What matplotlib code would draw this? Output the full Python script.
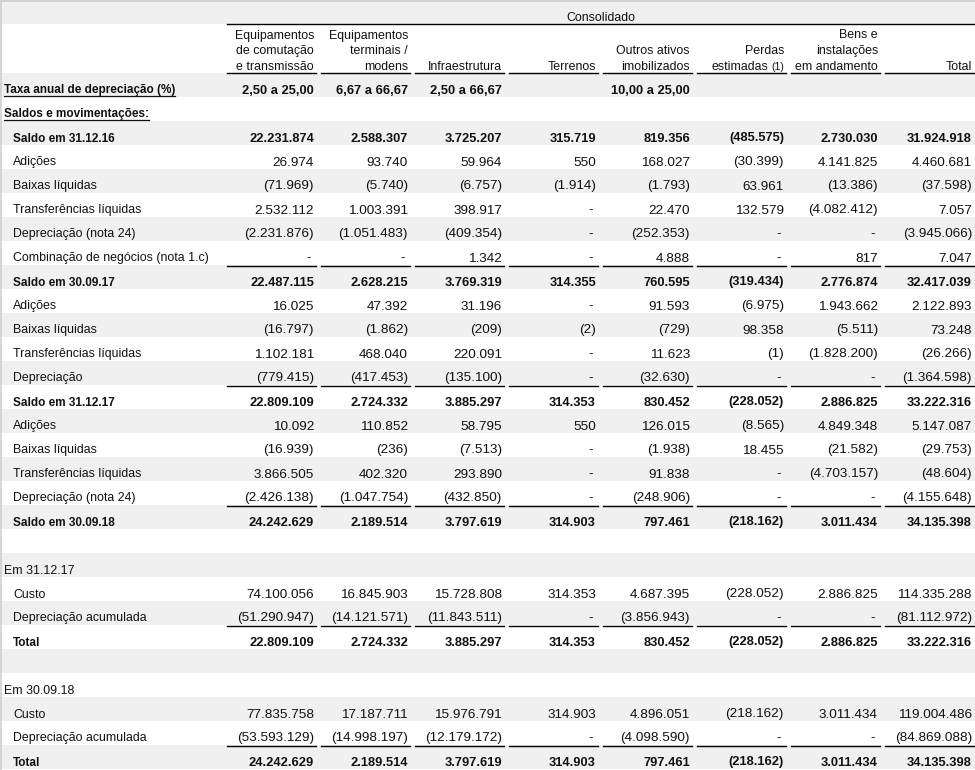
import matplotlib
matplotlib.use("Agg")
import matplotlib.pyplot as plt

# ---------------- data ----------------
title = "Consolidado"
col_headers = [
    "Equipamentos\nde comutação\ne transmissão",
    "Equipamentos\nterminais /\nmodens",
    "Infraestrutura",
    "Terrenos",
    "Outros ativos\nimobilizados",
    "Perdas\nestimadas",
    "Bens e\ninstalações\nem andamento",
    "Total",
]
header_note = "(1)"  # footnote mark after "estimadas"

row_labels = [
    "Taxa anual de depreciação (%)", "Saldos e movimentações:",
    "Saldo em 31.12.16", "Adições", "Baixas líquidas", "Transferências líquidas",
    "Depreciação (nota 24)", "Combinação de negócios (nota 1.c)",
    "Saldo em 30.09.17", "Adições", "Baixas líquidas", "Transferências líquidas",
    "Depreciação",
    "Saldo em 31.12.17", "Adições", "Baixas líquidas", "Transferências líquidas",
    "Depreciação (nota 24)",
    "Saldo em 30.09.18", "",
    "Em 31.12.17", "Custo", "Depreciação acumulada", "Total", "",
    "Em 30.09.18", "Custo", "Depreciação acumulada", "Total",
]

taxa_values = ["2,50 a 25,00", "6,67 a 66,67", "2,50 a 66,67", "",
               "10,00 a 25,00", "", "", ""]

value_rows = list(range(2, 19)) + [21, 22, 23, 26, 27, 28]

equip_comutacao = [22231874, 26974, -71969, 2532112, -2231876, 0, 22487115,
                   16025, -16797, 1102181, -779415, 22809109,
                   10092, -16939, 3866505, -2426138, 24242629,
                   74100056, -51290947, 22809109,
                   77835758, -53593129, 24242629]
equip_terminais = [2588307, 93740, -5740, 1003391, -1051483, 0, 2628215,
                   47392, -1862, 468040, -417453, 2724332,
                   110852, -236, 402320, -1047754, 2189514,
                   16845903, -14121571, 2724332,
                   17187711, -14998197, 2189514]
infraestrutura = [3725207, 59964, -6757, 398917, -409354, 1342, 3769319,
                  31196, -209, 220091, -135100, 3885297,
                  58795, -7513, 293890, -432850, 3797619,
                  15728808, -11843511, 3885297,
                  15976791, -12179172, 3797619]
terrenos = [315719, 550, -1914, 0, 0, 0, 314355,
            0, -2, 0, 0, 314353,
            550, 0, 0, 0, 314903,
            314353, 0, 314353,
            314903, 0, 314903]
outros_ativos = [819356, 168027, -1793, 22470, -252353, 4888, 760595,
                 91593, -729, 11623, -32630, 830452,
                 126015, -1938, 91838, -248906, 797461,
                 4687395, -3856943, 830452,
                 4896051, -4098590, 797461]
perdas_estimadas = [-485575, -30399, 63961, 132579, 0, 0, -319434,
                    -6975, 98358, -1, 0, -228052,
                    -8565, 18455, 0, 0, -218162,
                    -228052, 0, -228052,
                    -218162, 0, -218162]
bens_andamento = [2730030, 4141825, -13386, -4082412, 0, 817, 2776874,
                  1943662, -5511, -1828200, 0, 2886825,
                  4849348, -21582, -4703157, 0, 3011434,
                  2886825, 0, 2886825,
                  3011434, 0, 3011434]
total = [31924918, 4460681, -37598, 7057, -3945066, 7047, 32417039,
         2122893, 73248, -26266, -1364598, 33222316,
         5147087, -29753, -48604, -4155648, 34135398,
         114335288, -81112972, 33222316,
         119004486, -84869088, 34135398]

columns = [equip_comutacao, equip_terminais, infraestrutura, terrenos,
           outros_ativos, perdas_estimadas, bens_andamento, total]

bold_rows = {0, 1, 2, 8, 13, 18, 23, 28}
top_level_rows = {0, 1, 20, 25}
underlined_label_rows = {0, 1}
rule_rows = {7, 12, 17, 22, 27}

# ---------------- layout ----------------
W, H = 975, 770
fig = plt.figure(figsize=(W / 100, H / 100), dpi=100)
ax = fig.add_axes([0, 0, 1, 1])
ax.set_xlim(0, W)
ax.set_ylim(H, 0)
ax.axis("off")

FONT = "Liberation Sans"
FS = 8.9        # normal labels / headers
FSB = 8.45      # bold labels
FSN = 9.7       # normal numbers
FSNB = 9.3      # bold numbers
TXT = "#111111"
GRAY = "#f0f0f0"

ROW0 = 73
RH = 24
COL0 = 227
CW = 94
SEG = 89

def fmt(v):
    if v is None:
        return ""
    if v == 0:
        return "-"
    s = f"{abs(v):,}".replace(",", ".")
    return f"({s})" if v < 0 else s

# background bands
ax.axhspan(0, 24, color=GRAY, lw=0, zorder=0)
n_rows = len(row_labels)
for i in range(n_rows):
    if i % 2 == 0:
        top = ROW0 + RH * i
        ax.axhspan(top, top + RH, color=GRAY, lw=0, zorder=0)

# outer border lines (top / left)
ax.plot([0, W], [0.5, 0.5], color="#cfcfcf", lw=1.2, zorder=1)
ax.plot([0.5, 0.5], [0, H], color="#cfcfcf", lw=1.2, zorder=1)

# title
ax.text((COL0 + W) / 2, 20.7, title, ha="center", va="baseline",
        fontfamily=FONT, fontsize=FS, color=TXT)
ax.plot([COL0, W], [24, 24], color="black", lw=1.0, zorder=2)

# column headers
base_lines = [38.5, 54.3, 70.0]
renderer = fig.canvas.get_renderer()
for c, hdr in enumerate(col_headers):
    right = COL0 + CW * c + 87
    lines = hdr.split("\n")
    for k, line in enumerate(lines):
        y = base_lines[3 - len(lines) + k]
        if c == 5 and k == len(lines) - 1:
            t_note = ax.text(right + 0.5, y, header_note, ha="right", va="baseline",
                             fontfamily=FONT, fontsize=FS * 0.85, color=TXT)
            bb = t_note.get_window_extent(renderer=renderer)
            wpx = bb.width
            ax.text(right - wpx - 3, y, line, ha="right", va="baseline",
                    fontfamily=FONT, fontsize=FS, color=TXT)
        else:
            ax.text(right, y, line, ha="right", va="baseline",
                    fontfamily=FONT, fontsize=FS, color=TXT)
    x0 = COL0 + CW * c
    ax.plot([x0, x0 + SEG], [73, 73], color="black", lw=1.0, zorder=2)

# rows
for i, label in enumerate(row_labels):
    top = ROW0 + RH * i
    base = top + 20.5
    is_bold = i in bold_rows
    weight = "bold" if is_bold else "normal"
    x = 4 if i in top_level_rows else 13
    if label:
        t = ax.text(x, base, label, ha="left", va="baseline", fontfamily=FONT,
                    fontsize=FSB if is_bold else FS, fontweight=weight, color=TXT)
        if i in underlined_label_rows:
            bb = t.get_window_extent(renderer=renderer)
            ax.plot([x, x + bb.width], [base + 2.2, base + 2.2],
                    color=TXT, lw=0.9, zorder=2)
    if i == 0:
        for c, s in enumerate(taxa_values):
            if s:
                ax.text(COL0 + CW * c + 87, base, s, ha="right", va="baseline",
                        fontfamily=FONT, fontsize=FSNB, fontweight="bold", color=TXT)
    if i in value_rows:
        j = value_rows.index(i)
        for c, col in enumerate(columns):
            s = fmt(col[j])
            right = COL0 + CW * c + 87
            if s == "-":
                right -= 3
            ax.text(right, base, s, ha="right", va="baseline", fontfamily=FONT,
                    fontsize=FSNB if is_bold else FSN, fontweight=weight, color=TXT)
    if i in rule_rows:
        for c in range(len(columns)):
            x0 = COL0 + CW * c
            ax.plot([x0, x0 + SEG], [top + RH + 0.5, top + RH + 0.5],
                    color="black", lw=1.0, zorder=2)

fig.savefig("out.png", dpi=100)
